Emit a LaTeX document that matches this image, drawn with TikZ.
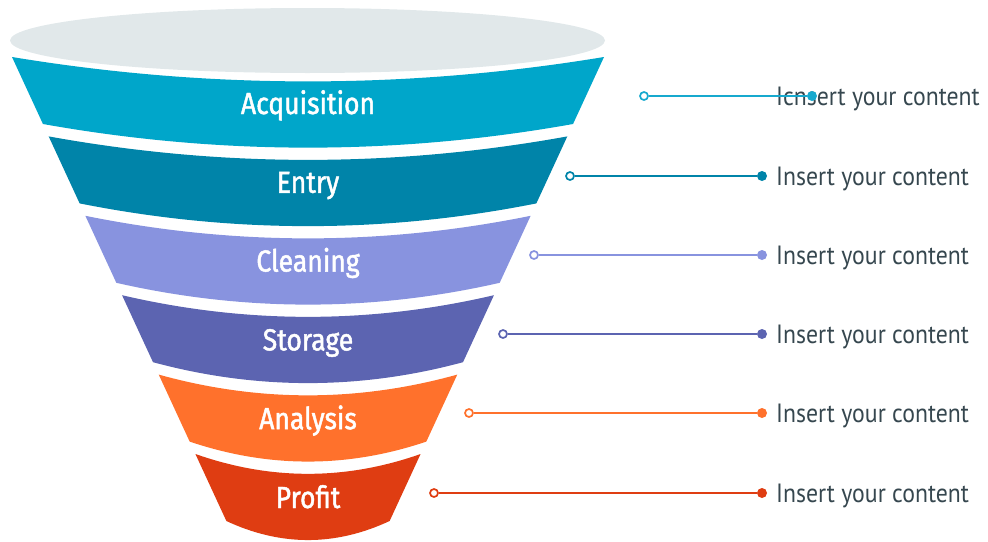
\documentclass[tikz,border=0pt]{standalone}
\usepackage{fontspec}
\setmainfont[FakeStretch=0.9]{PT Sans}
\newfontfamily\lblfont[FakeStretch=0.87,FakeBold=1.5]{Fira Sans}
\definecolor{ellc}{HTML}{E1E8EA}
\definecolor{acqc}{HTML}{00A6CA}
\definecolor{acql}{HTML}{17A9CE}
\definecolor{entc}{HTML}{0084A9}
\definecolor{clec}{HTML}{8893DF}
\definecolor{stoc}{HTML}{5C64B1}
\definecolor{anac}{HTML}{FF712C}
\definecolor{proc}{HTML}{DF3D12}
\definecolor{txtc}{HTML}{36474F}
\newcommand\fband[3]{%
  \pgfmathsetmacro\bandYt{57+79.4*#1}%
  \pgfmathsetmacro\bandYb{\bandYt+67}%
  \pgfmathsetmacro\bandHt{296-0.462*(\bandYt-57)}%
  \pgfmathsetmacro\bandHb{296-0.462*(\bandYb-57)}%
  \pgfmathsetmacro\bandCt{\bandYt+4*(17+0.025*\bandHt)/3}%
  \pgfmathsetmacro\bandCb{\bandYb+4*(17+0.025*\bandHb)/3}%
  \pgfmathsetmacro\bandLt{308-\bandHt}%
  \pgfmathsetmacro\bandRt{308+\bandHt}%
  \pgfmathsetmacro\bandLb{308-\bandHb}%
  \pgfmathsetmacro\bandRb{308+\bandHb}%
  \pgfmathsetmacro\bandPt{\bandHt/3}%
  \pgfmathsetmacro\bandPb{\bandHb/3}%
  \fill[#2] (\bandLt,\bandYt) .. controls ({308-\bandPt},\bandCt) and ({308+\bandPt},\bandCt) .. (\bandRt,\bandYt)
    -- (\bandRb,\bandYb) .. controls ({308+\bandPb},\bandCb) and ({308-\bandPb},\bandCb) .. (\bandLb,\bandYb) -- cycle;
  \pgfmathsetmacro\bandYl{114+78.8*#1}%
  \node[lbl] (lab#1) at (308,\bandYl) {#3};
}
\begin{document}
\begin{tikzpicture}[x=1pt,y=-1pt,
  lbl/.style={anchor=base,text=white,font=\lblfont\fontsize{30.5}{32}\selectfont,inner sep=0},
  info/.style={anchor=base west,text=txtc,font=\fontsize{26.4}{28}\selectfont,inner sep=0},
  ocirc/.style={circle,draw=#1,line width=1.7pt,fill=white,inner sep=0,minimum size=8pt},
  fdot/.style={circle,fill=#1,inner sep=0,minimum size=10pt},
  conn/.style={draw=#1,line width=1.7pt}]
\useasboundingbox (0,0) rectangle (988,541);
\fill[ellc] (307.5,40.5) ellipse[x radius=297.5,y radius=32.5];
\fband{0}{acqc}{Acquisition}
\fband{1}{entc}{Entry}
\fband{2}{clec}{Cleaning}
\fband{3}{stoc}{Storage}
\fband{4}{anac}{Analysis}
\fband{5}{proc}{Profit}
% texts
\node[info] (t1) at (776,105) {Icnsert your content};
\node[info] (t2) at (776,185) {Insert your content};
\node[info] (t3) at (776,264) {Insert your content};
\node[info] (t4) at (776,343) {Insert your content};
\node[info] (t5) at (776,422) {Insert your content};
\node[info] (t6) at (776,502) {Insert your content};
% connectors
\node[ocirc=acql] (o1) at (644,96) {};
\node[fdot=acql] (d1) at (812,96) {};
\node[ocirc=entc] (o2) at (570,176) {};
\node[fdot=entc] (d2) at (762,176) {};
\node[ocirc=clec] (o3) at (534,255) {};
\node[fdot=clec] (d3) at (762,255) {};
\node[ocirc=stoc] (o4) at (503,334) {};
\node[fdot=stoc] (d4) at (762,334) {};
\node[ocirc=anac] (o5) at (469,413) {};
\node[fdot=anac] (d5) at (762,413) {};
\node[ocirc=proc] (o6) at (434,493) {};
\node[fdot=proc] (d6) at (762,493) {};
\draw[conn=acql] (o1) -- (d1);
\draw[conn=entc] (o2) -- (d2);
\draw[conn=clec] (o3) -- (d3);
\draw[conn=stoc] (o4) -- (d4);
\draw[conn=anac] (o5) -- (d5);
\draw[conn=proc] (o6) -- (d6);
\end{tikzpicture}
\end{document}
